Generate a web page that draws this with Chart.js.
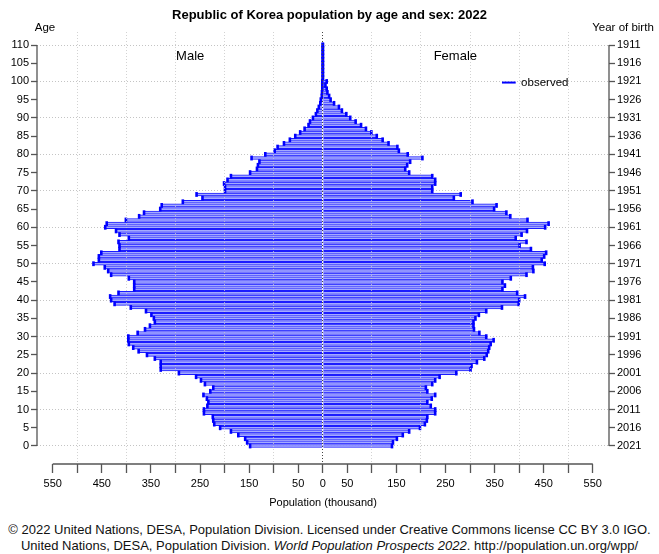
<!DOCTYPE html>
<html lang="en">
<head>
<meta charset="UTF-8" />
<title>Republic of Korea population by age and sex: 2022</title>
<script src="https://cdn.jsdelivr.net/npm/chart.js"></script>
<style>
  body {
    margin: 0;
    background: #fff;
    font-family: "Liberation Sans", Arial, sans-serif;
  }
  #wrap {
    position: relative;
    width: 659px;
    height: 518px;
  }
  #foot {
    width: 659px;
    margin-top: 4px;
    text-align: center;
    font-size: 13px;
    line-height: 16px;
    color: #111;
  }
</style>
</head>
<body>
<div id="wrap"><canvas id="pyr"></canvas></div>
<div id="foot">
  © 2022 United Nations, DESA, Population Division. Licensed under Creative Commons license CC BY 3.0 IGO.<br>
  United Nations, DESA, Population Division. <i>World Population Prospects 2022</i>. http://population.un.org/wpp/
</div>

<script>
  // single years of age 0..110, population in thousands
  const ages = Array.from({ length: 111 }, (_, i) => i);

  const male = [
    148, 154, 158, 172, 187, 209, 221, 223, 224, 242,
    242, 235, 233, 236, 243, 229, 223, 240, 248, 258,
    293, 330, 330, 330, 342, 358, 375, 386, 395, 396,
    396, 377, 362, 352, 342, 344, 349, 360, 391, 424,
    431, 433, 416, 384, 384, 384, 395, 431, 437, 444,
    467, 456, 456, 451, 414, 414, 416, 395, 414, 421,
    443, 440, 401, 374, 364, 331, 328, 285, 245, 257,
    199, 199, 201, 194, 187, 148, 134, 132, 129, 145,
    117, 98, 92, 79, 67, 56, 46, 37, 29, 26,
    20, 14, 11, 8, 5, 4, 2, 1.5, 1, 1,
    1, 0.3, 0.3, 0.3, 0.3, 0.3, 0.3, 0.3, 0.3, 0.3, 0.3
  ];

  const female = [
    141, 143, 151, 163, 176, 198, 208, 212, 213, 229,
    229, 220, 213, 222, 229, 213, 210, 223, 229, 238,
    272, 301, 303, 314, 329, 334, 337, 339, 342, 348,
    333, 319, 308, 307, 307, 311, 318, 333, 365, 399,
    400, 412, 396, 366, 371, 366, 383, 415, 429, 428,
    452, 446, 451, 455, 424, 401, 415, 393, 405, 416,
    453, 460, 417, 382, 374, 349, 354, 305, 267, 281,
    223, 223, 229, 229, 223, 176, 168, 172, 178, 203,
    173, 155, 152, 134, 122, 110, 99, 88, 78, 67,
    56, 48, 39, 33, 23, 16, 13, 9.5, 8, 5.5,
    8, 0.5, 0.5, 0.5, 0.5, 0.5, 0.5, 0.5, 0.5, 0.5, 0.5
  ];

  const ageTicks = [0, 5, 10, 15, 20, 25, 30, 35, 40, 45, 50, 55, 60, 65, 70, 75, 80, 85, 90, 95, 100, 105, 110];
  const popTicks = [-550, -500, -450, -400, -350, -300, -250, -200, -150, -100, -50, 0,
                    50, 100, 150, 200, 250, 300, 350, 400, 450, 500, 550];
  const surveyYear = 2022;

  const maleBars = ages.map((a, i) => ({ x: -male[i], y: a }));
  const femaleBars = ages.map((a, i) => ({ x: female[i], y: a }));

  const BLUE = '#0000ff';
  const AXIS = '#555';
  const GRID = '#c4c4c4';

  Chart.defaults.font.family = '"Liberation Sans", Arial, sans-serif';
  Chart.defaults.font.size = 11;
  Chart.defaults.color = '#000';

  const tickVal = c => (c.tick ? c.tick.value : NaN);

  // R-style axis lines that only span the tick range, plus the free-floating labels
  const decorations = {
    id: 'decorations',
    afterDraw(chart) {
      const { ctx, chartArea, scales } = chart;
      const x = scales.x, y = scales.y;
      const yTop = y.getPixelForValue(ageTicks[ageTicks.length - 1]);
      const yBot = y.getPixelForValue(ageTicks[0]);
      ctx.save();
      ctx.strokeStyle = AXIS;
      ctx.lineWidth = 1.3;
      ctx.beginPath();
      ctx.moveTo(chartArea.left, yTop); ctx.lineTo(chartArea.left, yBot);
      ctx.moveTo(chartArea.right, yTop); ctx.lineTo(chartArea.right, yBot);
      ctx.moveTo(x.getPixelForValue(popTicks[0]), chartArea.bottom);
      ctx.lineTo(x.getPixelForValue(popTicks[popTicks.length - 1]), chartArea.bottom);
      ctx.stroke();

      ctx.fillStyle = '#000';
      ctx.textBaseline = 'middle';
      ctx.textAlign = 'center';
      ctx.font = '11.5px "Liberation Sans", Arial, sans-serif';
      ctx.fillText('Age', chartArea.left + 8, 28);
      ctx.fillText('Year of birth', chartArea.right + 14, 28);

      ctx.font = '13px "Liberation Sans", Arial, sans-serif';
      ctx.fillText('Male', x.getPixelForValue(-270), y.getPixelForValue(107));
      ctx.fillText('Female', x.getPixelForValue(270), y.getPixelForValue(107));

      // legend
      const ly = y.getPixelForValue(99.7);
      ctx.strokeStyle = BLUE;
      ctx.lineWidth = 2;
      ctx.beginPath();
      ctx.moveTo(x.getPixelForValue(365), ly);
      ctx.lineTo(x.getPixelForValue(393), ly);
      ctx.stroke();
      ctx.textAlign = 'left';
      ctx.font = '11.5px "Liberation Sans", Arial, sans-serif';
      ctx.fillText('observed', x.getPixelForValue(404), ly);
      ctx.restore();
    }
  };

  const barStyle = {
    type: 'bar',
    indexAxis: 'y',
    grouped: false,
    barThickness: 3,
    backgroundColor: '#a4aaff',
    borderColor: '#1c1cff',
    borderWidth: 1,
    order: 1
  };
  const capStyle = {
    type: 'scatter',
    pointStyle: 'line',
    rotation: 90,
    radius: 2.4,
    borderWidth: 2.6,
    borderColor: BLUE,
    backgroundColor: BLUE,
    order: 0
  };

  new Chart(document.getElementById('pyr'), {
    type: 'bar',
    data: {
      datasets: [
        { ...barStyle, label: 'Male', data: maleBars },
        { ...barStyle, label: 'Female', data: femaleBars },
        { ...capStyle, label: 'observed', data: maleBars },
        { ...capStyle, label: 'observed', data: femaleBars }
      ]
    },
    plugins: [decorations],
    options: {
      responsive: true,
      maintainAspectRatio: false,
      animation: false,
      layout: { padding: 0 },
      plugins: {
        legend: { display: false },
        tooltip: { enabled: false },
        title: {
          display: true,
          text: 'Republic of Korea population by age and sex: ' + surveyYear,
          font: { size: 13, weight: 'bold' },
          padding: { top: 8, bottom: 8.4 }
        }
      },
      scales: {
        x: {
          type: 'linear',
          position: 'bottom',
          offset: false,
          min: -582,
          max: 583,
          afterBuildTicks: s => { s.ticks = popTicks.map(v => ({ value: v })); },
          afterFit: s => { s.height = 54; },
          ticks: {
            autoSkip: false,
            maxRotation: 0,
            padding: 4,
            callback: v => (v === 0 || Math.abs(v) % 100 === 50) ? String(Math.abs(v)) : ''
          },
          grid: {
            offset: false,
            z: 1,
            color: c => {
              const v = tickVal(c);
              if (v === 0) return '#444';
              return v % 100 === 0 ? 'rgba(200,200,200,0.8)' : 'rgba(0,0,0,0)';
            },
            lineWidth: 1,
            tickLength: 9,
            tickColor: AXIS,
            tickWidth: 1.3
          },
          border: { display: false, dash: [1, 2] },
          title: {
            display: true,
            text: 'Population (thousand)',
            font: { size: 11 },
            padding: { top: 4, bottom: 8 }
          }
        },
        y: {
          type: 'linear',
          position: 'left',
          offset: false,
          min: -4.94,
          max: 113.57,
          afterBuildTicks: s => { s.ticks = ageTicks.map(v => ({ value: v })); },
          afterFit: s => { s.width = 37; },
          ticks: { autoSkip: false, padding: 2 },
          grid: {
            offset: false,
            color: c => tickVal(c) % 10 === 0 ? GRID : 'rgba(0,0,0,0)',
            tickLength: 6,
            tickColor: AXIS,
            tickWidth: 1.3
          },
          border: { display: false, dash: [1, 2] }
        },
        y2: {
          type: 'linear',
          position: 'right',
          display: true,
          offset: false,
          min: -4.94,
          max: 113.57,
          afterBuildTicks: s => { s.ticks = ageTicks.map(v => ({ value: v })); },
          afterFit: s => { s.width = 50; },
          ticks: {
            autoSkip: false,
            padding: 2,
            callback: v => String(surveyYear - 1 - v)
          },
          grid: {
            offset: false,
            drawOnChartArea: false,
            tickLength: 6,
            tickColor: AXIS,
            tickWidth: 1.3
          },
          border: { display: false }
        }
      }
    }
  });
</script>
</body>
</html>
